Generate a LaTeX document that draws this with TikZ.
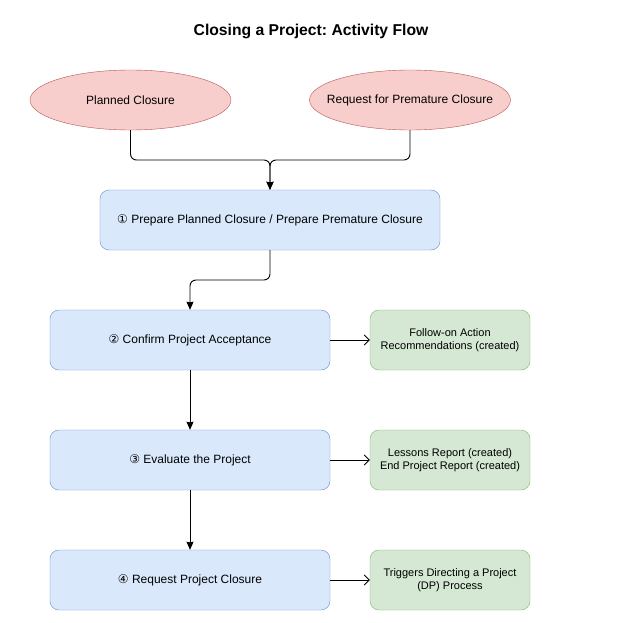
\documentclass[tikz,border=0pt]{standalone}
\usepackage{fontspec}
\setmainfont{Liberation Sans}
\newfontfamily\symfont{DejaVu Sans}
\usetikzlibrary{arrows.meta,shapes.geometric}
\definecolor{redfill}{HTML}{F8CECC}
\definecolor{redline}{HTML}{B85450}
\definecolor{bluefill}{HTML}{DAE8FC}
\definecolor{blueline}{HTML}{6C8EBF}
\definecolor{greenfill}{HTML}{D5E8D4}
\definecolor{greenline}{HTML}{82B366}
\tikzset{
  startnode/.style={ellipse, draw=redline, fill=redfill, minimum width=201pt, minimum height=60pt, inner sep=0pt, font=\fontsize{12}{14}\selectfont},
  stepbox/.style={rectangle, rounded corners=9pt, draw=blueline, fill=bluefill, minimum height=60pt, inner sep=0pt, font=\fontsize{12}{14}\selectfont},
  outbox/.style={rectangle, rounded corners=9pt, draw=greenline, fill=greenfill, minimum width=160pt, minimum height=60pt, inner sep=0pt, align=center, font=\fontsize{11}{13}\selectfont},
  flow/.style={draw=black, line width=0.9pt, rounded corners=6pt, -{Stealth[length=8pt,width=7pt,inset=0.5pt]}},
  outflow/.style={draw=black, line width=0.9pt, -{Straight Barb[length=5pt,width=10pt]}}
}
\begin{document}
\frenchspacing
\begin{tikzpicture}[x=1pt,y=-1pt]
\useasboundingbox (0,0) rectangle (622,623);
\fill[white] (0,0) rectangle (622,623);
\node[font=\bfseries\fontsize{15.7}{18}\selectfont] (title) at (311,31) {Closing a Project: Activity Flow};
\node[startnode] (pc) at (130.5,100) {\makebox[0pt]{Planned Closure}};
\node[startnode] (rpc) at (410,100) {\makebox[0pt]{Request for Premature Closure}};
\node[stepbox, minimum width=340pt] (s1) at (270,220) {{\symfont ①} Prepare Planned Closure / Prepare Premature Closure};
\node[stepbox, minimum width=280pt] (s2) at (190,340) {{\symfont ②} Confirm Project Acceptance};
\node[stepbox, minimum width=280pt] (s3) at (190,460) {{\symfont ③} Evaluate the Project};
\node[stepbox, minimum width=280pt] (s4) at (190,580) {{\symfont ④} Request Project Closure};
\node[outbox] (o2) at (450,340) {Follow-on Action\\Recommendations (created)};
\node[outbox] (o3) at (450,460) {Lessons Report (created)\\End Project Report (created)};
\node[outbox] (o4) at (450,580) {Triggers Directing a Project\\(DP) Process};
\coordinate (m1) at (270,160);
\coordinate (m2) at (270,280);
\draw[flow] (pc.south) |- (m1) -- (s1.north);
\draw[flow] (rpc.south) |- (m1) -- (s1.north);
\draw[flow] (s1.south) -- (m2) -| (s2.north);
\draw[flow] (s2.south) -- (s3.north);
\draw[flow] (s3.south) -- (s4.north);
\draw[outflow] (s2.east) -- (o2.west);
\draw[outflow] (s3.east) -- (o3.west);
\draw[outflow] (s4.east) -- (o4.west);
\end{tikzpicture}
\end{document}
